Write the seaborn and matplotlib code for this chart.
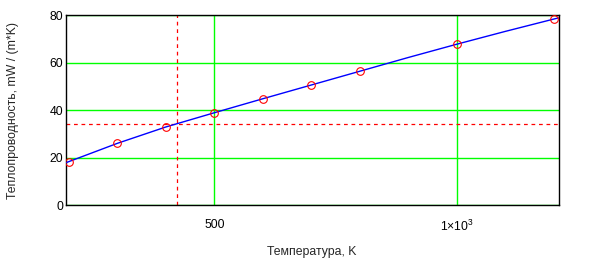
import matplotlib
matplotlib.use("Agg")
import matplotlib.pyplot as plt
import seaborn as sns
import pandas as pd

# Data
temp_k = [200, 300, 400, 500, 600, 700, 800, 1000, 1200]
conductivity = [18.3, 26.0, 32.8, 38.7, 44.6, 50.5, 56.4, 67.8, 78.4]
fit_x = [193.5, 200, 300, 400, 500, 600, 700, 800, 900, 1000, 1100, 1200, 1210]
fit_y = [17.8, 18.3, 26.0, 32.9, 38.9, 44.8, 50.6, 56.4, 62.2, 67.8, 73.2, 78.4, 78.9]
ref_x = 424
ref_y = 34.0
x_ticks = [500, 1000]
x_tick_labels = ["500", "1×10$^{3}$"]
y_ticks = [0, 20, 40, 60, 80]
x_limits = (193.5, 1210)
y_limits = (0, 80)
x_label = "Температура, K"
y_label = "Теплопроводность, mW / (m*K)"

sns.set_style("white")
plt.rcParams["font.family"] = ["Liberation Sans", "DejaVu Sans"]
plt.rcParams["mathtext.fontset"] = "custom"
plt.rcParams["mathtext.rm"] = "Liberation Sans"
plt.rcParams["mathtext.it"] = "Liberation Sans:italic"

fs = 8.8

fig = plt.figure(figsize=(5.89, 2.60), dpi=100)
ax = fig.add_axes([65.7 / 589, 55 / 260, (558.5 - 65.7) / 589, 189.7 / 260])

df_pts = pd.DataFrame({"T": temp_k, "k": conductivity})
df_fit = pd.DataFrame({"T": fit_x, "k": fit_y})

ax.set_xlim(*x_limits)
ax.set_ylim(*y_limits)
ax.set_xticks(x_ticks)
ax.set_xticklabels(x_tick_labels)
ax.set_yticks(y_ticks)
ax.grid(True, color="#00ff00", linewidth=1.0)
ax.set_axisbelow(True)

ax.axhline(ref_y, color="#ff0000", linestyle=(0, (3, 3)), linewidth=0.9, zorder=2)
ax.axvline(ref_x, color="#ff0000", linestyle=(0, (3, 3)), linewidth=0.9, zorder=2)

sns.lineplot(data=df_fit, x="T", y="k", ax=ax, color="#0000ff", linewidth=1.0,
             estimator=None, sort=True, zorder=3)
ax.plot(df_pts["T"], df_pts["k"], linestyle="none", marker="o", markersize=5.5,
        markerfacecolor="none", markeredgecolor="#ff0000", markeredgewidth=0.8, zorder=4)

for s in ax.spines.values():
    s.set_visible(True)
    s.set_color("black")
    s.set_linewidth(1.0)

ax.tick_params(axis="both", length=0, labelsize=fs, colors="black")
ax.tick_params(axis="x", pad=10.2)
ax.tick_params(axis="y", pad=2)

ax.set_xlabel(x_label, fontsize=fs)
ax.set_ylabel(y_label, fontsize=fs)
ax.xaxis.label.set_va("center")
ax.yaxis.label.set_va("center")
ax.xaxis.set_label_coords(0.5, -46.7 / 189.7)
ax.yaxis.set_label_coords((13 - 65.7) / 492.8, 0.5)

fig.savefig("out.png", dpi=100)
